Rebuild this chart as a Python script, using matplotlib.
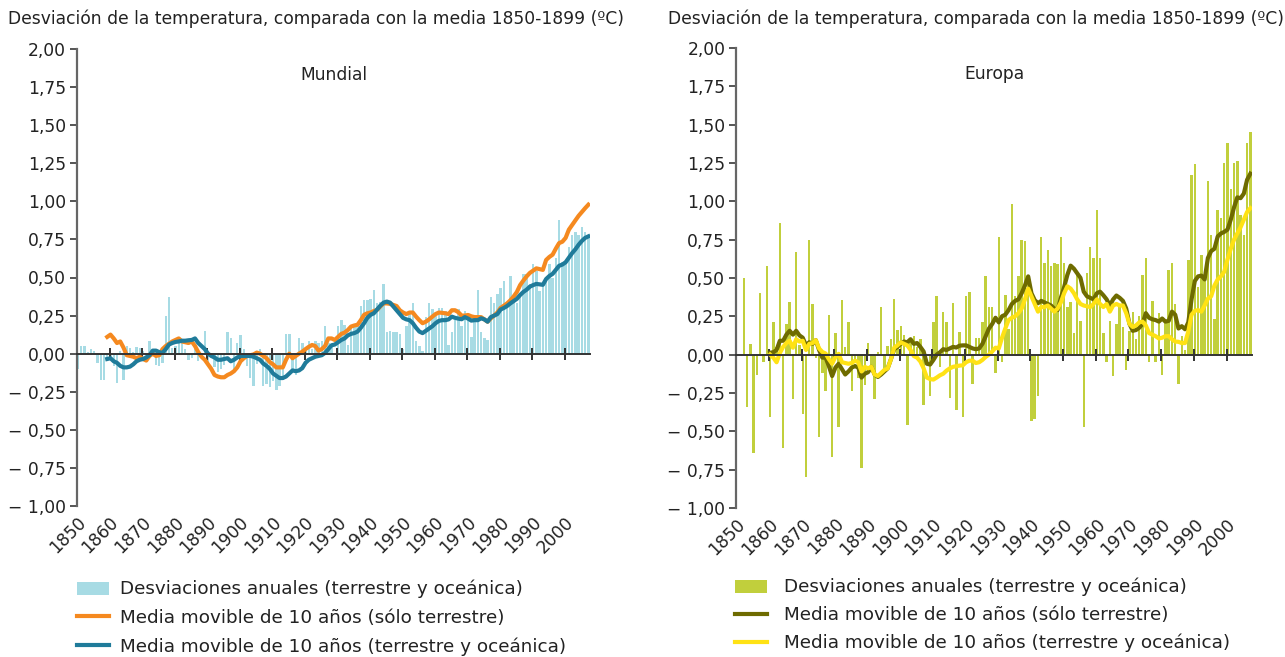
import matplotlib
matplotlib.use("Agg")
import matplotlib.pyplot as plt
from matplotlib.patches import Patch
from matplotlib.lines import Line2D

plt.rcParams['font.family'] = ['DejaVu Sans']

# ---------------- data ----------------
years_global = list(range(1850, 2008))
global_annual = [
    -0.10, 0.05, 0.05, 0.01, 0.03, 0.02, -0.06, -0.17, -0.17, -0.03,
    -0.02, -0.08, -0.19, 0.02, -0.17, 0.05, 0.035, 0.01, 0.045, 0.035,
    0.02, -0.03, 0.085, 0.03, -0.075, -0.08, -0.06, 0.25, 0.375, 0.04,
    0.05, 0.11, 0.07, 0.03, -0.04, -0.03, 0.03, -0.05, -0.03, 0.15,
    -0.06, -0.01, -0.085, -0.12, -0.10, -0.075, 0.14, 0.10, -0.10, 0.07,
    0.12, 0.03, -0.08, -0.16, -0.21, -0.07, 0.03, -0.21, -0.20, -0.22,
    -0.18, -0.24, -0.21, -0.17, 0.13, 0.13, -0.10, -0.14, 0.10, 0.07,
    0.02, 0.08, 0.03, 0.08, 0.07, 0.08, 0.18, 0.07, 0.06, 0.00,
    0.18, 0.22, 0.19, 0.06, 0.18, 0.18, 0.19, 0.31, 0.35, 0.35,
    0.36, 0.42, 0.33, 0.34, 0.46, 0.145, 0.15, 0.14, 0.14, 0.13,
    0.03, 0.18, 0.26, 0.33, 0.08, 0.05, 0.02, 0.24, 0.33, 0.29,
    0.25, 0.30, 0.30, 0.28, 0.06, 0.14, 0.22, 0.29, 0.18, 0.28,
    0.24, 0.11, 0.25, 0.42, 0.14, 0.10, 0.09, 0.37, 0.33, 0.39,
    0.43, 0.48, 0.30, 0.51, 0.36, 0.33, 0.38, 0.52, 0.52, 0.46,
    0.59, 0.54, 0.41, 0.45, 0.50, 0.59, 0.50, 0.63, 0.88, 0.60,
    0.61, 0.70, 0.78, 0.80, 0.78, 0.83, 0.80, 0.76,
]
global_ma_years = list(range(1859, 2008))
global_ma_land = [
    0.11,
    0.125, 0.10, 0.07, 0.08, 0.04, -0.01, -0.015, -0.02, -0.03, -0.02,
    -0.035, -0.045, -0.015, 0.0, -0.015, -0.01, 0.03, 0.05, 0.065, 0.08,
    0.09, 0.10, 0.08, 0.075, 0.07, 0.08, 0.05, 0.01, -0.02, -0.04,
    -0.07, -0.10, -0.14, -0.15, -0.155, -0.155, -0.14, -0.13, -0.115, -0.09,
    -0.05, -0.03, -0.015, -0.01, -0.005, 0.007, 0.0, -0.015, -0.03, -0.055,
    -0.07, -0.09, -0.09, -0.09, -0.04, 0.0, -0.03, -0.015, 0.0, 0.013,
    0.03, 0.045, 0.057, 0.05, 0.02, 0.03, 0.05, 0.10, 0.10, 0.09,
    0.11, 0.13, 0.138, 0.155, 0.178, 0.185, 0.19, 0.22, 0.255, 0.265,
    0.27, 0.28, 0.287, 0.31, 0.33, 0.33, 0.327, 0.32, 0.313, 0.285,
    0.27, 0.26, 0.27, 0.27, 0.243, 0.22, 0.20, 0.21, 0.225, 0.243,
    0.26, 0.27, 0.268, 0.265, 0.26, 0.285, 0.285, 0.272, 0.25, 0.25,
    0.254, 0.245, 0.24, 0.24, 0.24, 0.225, 0.21, 0.232, 0.25, 0.27,
    0.30, 0.315, 0.33, 0.35, 0.375, 0.405, 0.45, 0.48, 0.507, 0.53,
    0.545, 0.56, 0.555, 0.55, 0.615, 0.635, 0.65, 0.69, 0.726, 0.735,
    0.76, 0.814, 0.845, 0.875, 0.905, 0.93, 0.955, 0.978,
]
global_ma_landocean = [
    -0.035,
    -0.03, -0.05, -0.06, -0.08, -0.09, -0.09, -0.085, -0.07, -0.05, -0.04,
    -0.035, -0.025, -0.01, 0.02, 0.02, 0.01, 0.005, 0.03, 0.06, 0.07,
    0.077, 0.08, 0.085, 0.085, 0.088, 0.09, 0.10, 0.07, 0.05, 0.03,
    0.0, -0.015, -0.025, -0.04, -0.04, -0.035, -0.03, -0.05, -0.04, -0.025,
    -0.015, -0.015, -0.015, -0.015, -0.02, -0.03, -0.04, -0.065, -0.08, -0.10,
    -0.13, -0.145, -0.16, -0.16, -0.15, -0.13, -0.11, -0.115, -0.11, -0.095,
    -0.06, -0.04, -0.03, -0.02, -0.015, -0.01, 0.005, 0.03, 0.055, 0.06,
    0.075, 0.09, 0.10, 0.12, 0.13, 0.135, 0.145, 0.17, 0.20, 0.235,
    0.255, 0.265, 0.29, 0.315, 0.335, 0.342, 0.335, 0.31, 0.285, 0.26,
    0.235, 0.225, 0.22, 0.20, 0.17, 0.145, 0.135, 0.15, 0.165, 0.18,
    0.20, 0.215, 0.22, 0.22, 0.225, 0.243, 0.235, 0.23, 0.226, 0.24,
    0.23, 0.217, 0.22, 0.22, 0.232, 0.225, 0.21, 0.24, 0.25, 0.26,
    0.29, 0.30, 0.313, 0.33, 0.345, 0.36, 0.385, 0.405, 0.42, 0.44,
    0.45, 0.458, 0.455, 0.452, 0.49, 0.51, 0.524, 0.55, 0.577, 0.585,
    0.60, 0.63, 0.66, 0.685, 0.715, 0.74, 0.76, 0.77,
]

years_europe = list(range(1852, 2008))
europe_annual = [
    0.50, -0.34, 0.07, -0.64, -0.13, 0.40, -0.05, 0.58,
    -0.41, 0.21, 0.05, 0.86, -0.61, 0.20, 0.34, -0.29, 0.67, 0.06,
    -0.39, -0.80, 0.75, 0.33, -0.02, -0.54, -0.12, -0.24, 0.26, -0.67,
    0.14, -0.47, 0.355, 0.05, 0.21, -0.24, -0.04, -0.15, -0.74, -0.20,
    0.075, -0.10, -0.29, 0.02, 0.31, -0.10, 0.055, 0.10, 0.36, 0.16,
    0.185, 0.13, -0.46, 0.10, 0.12, 0.05, 0.10, -0.33, 0.0, -0.27,
    0.21, 0.38, -0.08, 0.28, 0.21, -0.28, 0.335, -0.36, 0.15, -0.41,
    0.38, 0.41, -0.19, 0.11, 0.11, 0.21, 0.51, 0.31, 0.31, -0.12,
    0.77, -0.05, 0.39, 0.17, 0.985, 0.38, 0.51, 0.75, 0.74, 0.50,
    -0.43, -0.42, -0.27, 0.77, 0.60, 0.68, 0.58, 0.60, 0.59, 0.77,
    0.60, 0.31, 0.34, 0.14, 0.53, 0.22, -0.47, 0.53, 0.70, 0.63,
    0.94, 0.63, 0.14, -0.05, 0.22, -0.14, 0.20, 0.31, 0.18, -0.10,
    0.155, 0.28, 0.10, 0.25, 0.52, 0.63, -0.05, 0.35, -0.05, 0.27,
    -0.13, 0.22, 0.55, 0.60, 0.33, -0.19, 0.12, 0.03, 0.62, 1.17,
    1.24, 0.44, 0.65, 0.49, 1.13, 0.78, 0.23, 0.94, 0.89, 1.25,
    1.38, 1.08, 1.25, 1.26, 0.91, 0.78, 1.38, 1.45,
]
europe_ma_years = list(range(1860, 2008))
europe_ma_land = [
    0.012, 0.015, 0.03, 0.09, 0.09, 0.13, 0.155, 0.13, 0.155, 0.125,
    0.11, 0.06, 0.08, 0.07, 0.094, 0.03, -0.02, -0.02, -0.075, -0.14,
    -0.085, -0.06, -0.095, -0.13, -0.11, -0.085, -0.075, -0.085, -0.15, -0.125,
    -0.115, -0.08, -0.13, -0.146, -0.13, -0.11, -0.09, -0.03, 0.035, 0.05,
    0.07, 0.085, 0.08, 0.10, 0.07, 0.075, 0.05, 0.02, -0.06, -0.065,
    -0.035, 0.0, 0.015, 0.035, 0.03, 0.04, 0.05, 0.046, 0.058, 0.06,
    0.06, 0.05, 0.04, 0.035, 0.04, 0.07, 0.12, 0.17, 0.20, 0.24,
    0.21, 0.25, 0.26, 0.29, 0.33, 0.35, 0.36, 0.40, 0.45, 0.51,
    0.40, 0.355, 0.335, 0.35, 0.34, 0.33, 0.32, 0.30, 0.29, 0.37,
    0.44, 0.52, 0.58, 0.56, 0.53, 0.50, 0.41, 0.38, 0.37, 0.36,
    0.40, 0.41, 0.387, 0.36, 0.32, 0.36, 0.385, 0.37, 0.35, 0.30,
    0.20, 0.155, 0.16, 0.175, 0.20, 0.27, 0.24, 0.23, 0.225, 0.215,
    0.235, 0.215, 0.22, 0.28, 0.26, 0.17, 0.185, 0.165, 0.21, 0.36,
    0.48, 0.51, 0.515, 0.49, 0.63, 0.675, 0.69, 0.77, 0.79, 0.80,
    0.815, 0.88, 0.96, 1.025, 1.02, 1.05, 1.14, 1.18,
]
europe_ma_landocean = [
    0.0, -0.02, -0.05, 0.01, 0.05, 0.075, 0.09, 0.045, 0.10, 0.085,
    0.09, 0.03, 0.07, 0.075, 0.094, 0.04, 0.017, 0.007, -0.03, -0.06,
    -0.015, 0.005, -0.05, -0.055, -0.06, -0.055, -0.04, -0.05, -0.11, -0.08,
    -0.09, -0.08, -0.13, -0.14, -0.12, -0.10, -0.09, -0.03, 0.045, 0.06,
    0.08, 0.07, 0.06, 0.03, -0.01, -0.02, -0.045, -0.09, -0.15, -0.16,
    -0.163, -0.15, -0.135, -0.125, -0.105, -0.09, -0.08, -0.076, -0.072, -0.07,
    -0.05, -0.04, -0.04, -0.055, -0.05, -0.035, -0.015, 0.0, 0.02, 0.045,
    0.04, 0.11, 0.17, 0.225, 0.24, 0.25, 0.27, 0.30, 0.36, 0.43,
    0.38, 0.33, 0.28, 0.31, 0.31, 0.32, 0.30, 0.28, 0.30, 0.34,
    0.40, 0.445, 0.43, 0.40, 0.36, 0.33, 0.32, 0.315, 0.31, 0.33,
    0.36, 0.33, 0.31, 0.33, 0.28, 0.32, 0.33, 0.32, 0.32, 0.27,
    0.20, 0.18, 0.19, 0.21, 0.215, 0.19, 0.14, 0.13, 0.12, 0.105,
    0.11, 0.12, 0.12, 0.10, 0.085, 0.083, 0.075, 0.075, 0.15, 0.26,
    0.285, 0.29, 0.28, 0.32, 0.365, 0.38, 0.45, 0.49, 0.51, 0.54,
    0.62, 0.69, 0.75, 0.79, 0.83, 0.88, 0.93, 0.955,
]

ytick_values = [2.0, 1.75, 1.5, 1.25, 1.0, 0.75, 0.5, 0.25, 0.0,
                -0.25, -0.5, -0.75, -1.0]
ytick_labels = ['2,00', '1,75', '1,50', '1,25', '1,00', '0,75', '0,50',
                '0,25', '0,00', '\u2212 0,25', '\u2212 0,50', '\u2212 0,75',
                '\u2212 1,00']
xtick_years = list(range(1850, 2001, 10))
xtick_labels = [str(y) for y in xtick_years]

y_title = 'Desviación de la temperatura, comparada con la media 1850-1899 (ºC)'
legend_labels = ['Desviaciones anuales (terrestre y oceánica)',
                 'Media movible de 10 años (sólo terrestre)',
                 'Media movible de 10 años (terrestre y oceánica)']

# colours
c_bar_g, c_land_g, c_lo_g = '#a7dbe4', '#f5891f', '#1f7b9a'
c_bar_e, c_land_e, c_lo_e = '#c1cf3c', '#6e6b00', '#ffe214'

W, H = 1285, 657
FS = 12.3
FS_LEG = 13.2
fig = plt.figure(figsize=(W / 100, H / 100), dpi=100)

ax1 = fig.add_axes([77 / W, 1 - 506 / H, (590 - 77) / W, (506 - 49) / H])
ax2 = fig.add_axes([736.4 / W, 1 - 507.9 / H, (1252 - 736.4) / W, (507.9 - 47.9) / H])

OFF = 0.3


def style(ax):
    ax.set_xlim(1850, 2007.8)
    ax.set_ylim(-1, 2)
    for s in ['top', 'right']:
        ax.spines[s].set_visible(False)
    ax.spines['left'].set_color('#666666')
    ax.spines['left'].set_linewidth(1.6)
    ax.spines['bottom'].set_position(('data', 0))
    ax.spines['bottom'].set_color('#333333')
    ax.spines['bottom'].set_linewidth(1.4)
    ax.spines['bottom'].set_zorder(5)
    ax.set_yticks(ytick_values)
    ax.set_yticklabels(ytick_labels)
    ax.tick_params(axis='y', direction='out', length=5, width=1.4,
                   color='#555555', labelsize=FS, pad=3, labelcolor='#222222')
    ax.set_xticks(xtick_years)
    ax.tick_params(axis='x', direction='inout', length=8, width=1.4,
                   color='#333333', labelbottom=False)
    sec = ax.secondary_xaxis('bottom')
    sec.set_xticks(xtick_years)
    sec.set_xticklabels(xtick_labels, rotation=45, ha='right',
                        rotation_mode='anchor', color='#222222')
    sec.tick_params(length=0, pad=5, labelsize=FS)
    sec.spines['bottom'].set_visible(False)


style(ax1)
style(ax2)

ax1.bar([y + OFF for y in years_global], global_annual, width=0.75,
        color=c_bar_g, zorder=1)
ax1.plot([y + OFF for y in global_ma_years], global_ma_land,
         color=c_land_g, lw=3.0, zorder=3, solid_joinstyle='round')
ax1.plot([y + OFF for y in global_ma_years], global_ma_landocean,
         color=c_lo_g, lw=3.0, zorder=4, solid_joinstyle='round')
ax1.text(0.5, 0.943, 'Mundial', transform=ax1.transAxes, ha='center',
         va='center', fontsize=FS, color='#222222')

ax2.bar([y + OFF for y in years_europe], europe_annual, width=0.75,
        color=c_bar_e, zorder=1)
ax2.plot([y + OFF for y in europe_ma_years], europe_ma_land,
         color=c_land_e, lw=3.0, zorder=3, solid_joinstyle='round')
ax2.plot([y + OFF for y in europe_ma_years], europe_ma_landocean,
         color=c_lo_e, lw=3.0, zorder=4, solid_joinstyle='round')
ax2.text(0.5, 0.943, 'Europa', transform=ax2.transAxes, ha='center',
         va='center', fontsize=FS, color='#222222')

fig.text(8 / W, 1 - 19 / H, y_title, fontsize=FS, ha='left', va='center',
         color='#222222')
fig.text(668 / W, 1 - 19 / H, y_title, fontsize=FS, ha='left', va='center',
         color='#222222')


def make_legend(x0, ytop, cbar, cland, clo, pad, spacing):
    handles = [Patch(facecolor=cbar, edgecolor='none'),
               Line2D([], [], color=cland, lw=3.0),
               Line2D([], [], color=clo, lw=3.0)]
    fig.legend(handles, legend_labels, loc='upper left',
               bbox_to_anchor=(x0 / W, 1 - ytop / H), frameon=False,
               fontsize=FS_LEG, handlelength=1.75, handleheight=0.7,
               labelspacing=spacing, handletextpad=pad, borderaxespad=0,
               borderpad=0, labelcolor='#222222')


make_legend(77, 580, c_bar_g, c_land_g, c_lo_g, 0.58, 0.56)
make_legend(735, 578, c_bar_e, c_land_e, c_lo_e, 0.95, 0.52)

fig.savefig('out.png', dpi=100)
